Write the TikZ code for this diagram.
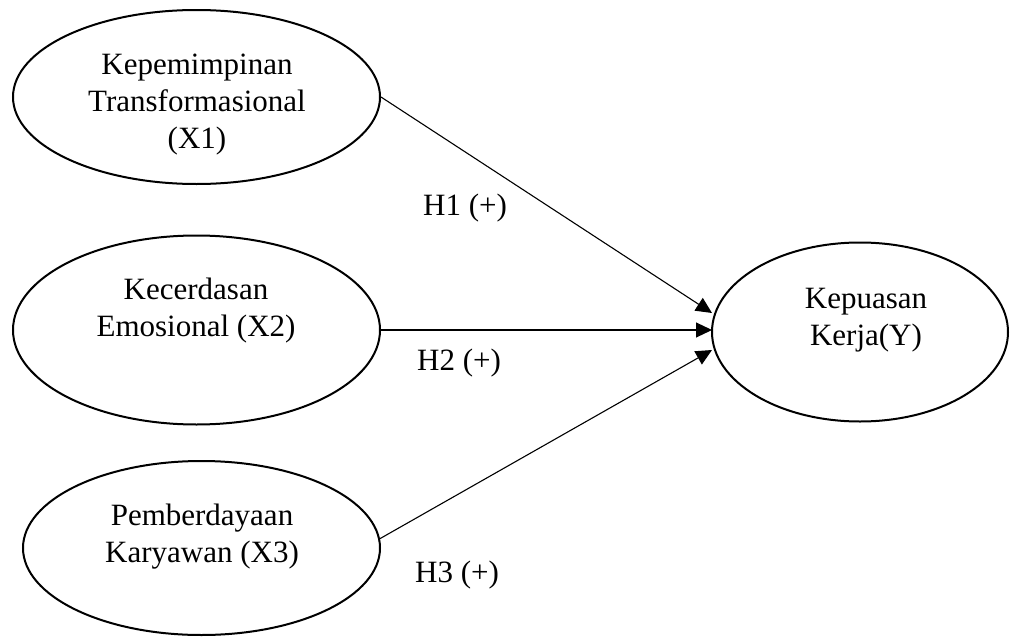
\documentclass[tikz,border=0pt]{standalone}
\usepackage{fontspec}
\setmainfont{Liberation Serif}
\usetikzlibrary{shapes.geometric,arrows.meta}
\begin{document}
\begin{tikzpicture}[x=1pt,y=-1pt,
  latent/.style={draw, ellipse, line width=2pt, inner sep=0pt},
  txt/.style={font=\fontsize{31}{37}\selectfont, align=center, inner sep=0pt, anchor=base},
  lbl/.style={font=\fontsize{31}{37}\selectfont, inner sep=0pt, anchor=base west},
  hyp/.style={line width=1.1pt, -{Triangle[length=16pt,width=15pt]}}]
\useasboundingbox (0,0) rectangle (1010,637);
\node[latent, minimum width=367pt, minimum height=174pt] (X1) at (196.5,97) {};
\node[latent, minimum width=367pt, minimum height=189pt] (X2) at (196.5,330) {};
\node[latent, minimum width=357pt, minimum height=174pt] (X3) at (201.5,548) {};
\node[latent, minimum width=296pt, minimum height=179pt] (Y) at (860,332) {};
\node[txt] (tX1) at (197,148) {Kepemimpinan\\Transformasional\\(X1)};
\node[txt] (tX2) at (196,336) {Kecerdasan\\Emosional (X2)};
\node[txt] (tX3) at (202,562) {Pemberdayaan\\Karyawan (X3)};
\node[txt] (tY) at (866,345) {Kepuasan\\Kerja(Y)};
\node[lbl] (h1) at (423,215) {H1 (+)};
\node[lbl] (h2) at (417,370) {H2 (+)};
\node[lbl] (h3) at (415,582) {H3 (+)};
\coordinate (t1) at (712,313);
\coordinate (t2) at (712,330);
\coordinate (t3) at (712,350);
\draw[hyp] (X1.east) -- (t1);
\draw[hyp] (X2.east) -- (t2);
\draw[hyp] (X3.3) -- (t3);
\end{tikzpicture}
\end{document}
